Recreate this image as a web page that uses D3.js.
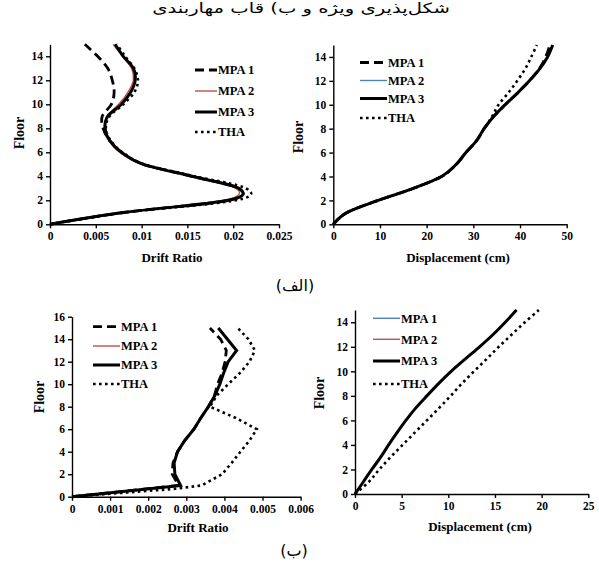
<!DOCTYPE html>
<meta charset="utf-8">
<head>
  <script src="https://d3js.org/d3.v7.min.js"></script>
  <style>
    body { margin: 0; background: #fff; }
    svg { display: block; }
    .tick text { font: bold 11.5px "Liberation Serif", "Times New Roman", serif; fill: #000; }
    .domain, .tick line { stroke: #000; stroke-width: 1.4px; }
    .leg text { font: bold 12.5px "Liberation Serif", "Times New Roman", serif; fill: #000; }
    .ttl { font: bold 13px "Liberation Serif", "Times New Roman", serif; fill: #000; }
    .ttl.fl { font-size: 14px; }
    .fa { font-family: "DejaVu Sans", sans-serif; fill: #000; }
  </style>
</head>
<body>
<script>

// floors (storey levels)
var floors = [0, 1, 2, 3, 4, 5, 6, 7, 8, 9, 10, 11, 12, 13, 14, 15];
var floorsThaB = [0, 0.7, 1, 2, 3, 4, 5, 6, 7, 8, 9, 10, 11, 12, 13, 14, 15];

// (الف) drift ratio
var driftA_MPA1 = [0, 0.0082, 0.0195, 0.0206, 0.0155, 0.0102, 0.0078, 0.0065, 0.0058, 0.0057, 0.0067, 0.0070, 0.0068, 0.0063, 0.0052, 0.0038];
var driftA_MPA2 = [0, 0.0081, 0.0190, 0.0203, 0.0153, 0.0100, 0.0076, 0.0065, 0.0061, 0.0062, 0.0075, 0.0085, 0.0091, 0.0089, 0.0079, 0.0069];
var driftA_MPA3 = [0, 0.0082, 0.0195, 0.0206, 0.0155, 0.0102, 0.0078, 0.0065, 0.0060, 0.0063, 0.0078, 0.0088, 0.0093, 0.0091, 0.0080, 0.0071];
var driftA_THA  = [0, 0.0083, 0.0203, 0.0214, 0.0158, 0.0103, 0.0079, 0.0066, 0.0061, 0.0065, 0.0080, 0.0092, 0.0096, 0.0092, 0.0082, 0.0073];

// (الف) displacement, cm
var dispA_MPA1 = [0, 3.0, 9.6, 17.1, 23.2, 26.3, 28.4, 30.7, 32.3, 34.3, 36.8, 39.5, 42.0, 44.1, 45.5, 46.4];
var dispA_MPA2 = [0, 3.0, 9.6, 17.1, 23.2, 26.3, 28.4, 30.7, 32.3, 34.3, 36.8, 39.5, 42.0, 44.2, 45.9, 47.0];
var dispA_MPA3 = [0, 3.0, 9.6, 17.1, 23.2, 26.3, 28.4, 30.7, 32.3, 34.3, 36.8, 39.5, 42.0, 44.2, 45.9, 47.0];
var dispA_THA  = [0, 3.0, 9.6, 17.1, 23.2, 26.3, 28.4, 30.7, 32.3, 34.0, 35.4, 37.5, 39.4, 41.1, 42.4, 43.6];

// (ب) drift ratio
var driftB_MPA1 = [0, 0.00280, 0.00263, 0.00265, 0.00277, 0.00296, 0.00320, 0.00338, 0.00358, 0.00374, 0.00382, 0.00394, 0.00402, 0.00405, 0.00390, 0.00362];
var driftB_MPA2 = [0, 0.00285, 0.00270, 0.00268, 0.00277, 0.00296, 0.00320, 0.00338, 0.00358, 0.00375, 0.00388, 0.00398, 0.00410, 0.00432, 0.00408, 0.00384];
var driftB_MPA3 = [0, 0.00285, 0.00270, 0.00268, 0.00277, 0.00296, 0.00320, 0.00338, 0.00358, 0.00375, 0.00388, 0.00398, 0.00410, 0.00432, 0.00408, 0.00384];
var driftB_THA  = [0, 0.0027, 0.0034, 0.00394, 0.00419, 0.00442, 0.00466, 0.00485, 0.00430, 0.00362, 0.00380, 0.00410, 0.00441, 0.00466, 0.00480, 0.00463, 0.00435];

// (ب) displacement, cm
var dispB_MPA1 = [0, 0.9, 1.8, 2.75, 3.6, 4.5, 5.45, 6.5, 7.7, 8.95, 10.3, 11.8, 13.35, 14.8, 16.1, 17.3];
var dispB_MPA2 = [0, 0.9, 1.8, 2.75, 3.6, 4.5, 5.45, 6.5, 7.7, 8.95, 10.3, 11.8, 13.35, 14.8, 16.1, 17.3];
var dispB_MPA3 = [0, 0.9, 1.8, 2.75, 3.6, 4.5, 5.45, 6.5, 7.7, 8.95, 10.3, 11.8, 13.35, 14.8, 16.1, 17.3];
var dispB_THA  = [0, 1.5, 2.6, 3.8, 5.1, 6.4, 7.7, 9.0, 10.25, 11.45, 12.75, 14.1, 15.4, 16.8, 18.2, 19.7];

var seriesNames = ["MPA 1", "MPA 2", "MPA 3", "THA"];
var driftTicks = [0, 0.005, 0.01, 0.015, 0.02, 0.025];
var driftTicksB = [0, 0.001, 0.002, 0.003, 0.004, 0.005, 0.006];

var titleText = "شکل\u200Cپذیری ویژه و ب) قاب مهاربندی";

// line looks
var dashed = {stroke: "#000", width: 2.8, dash: "9,5"},
    red    = {stroke: "#c0504d", width: 1.4, dash: null},
    blue   = {stroke: "#4f81bd", width: 1.4, dash: null},
    solid  = {stroke: "#000", width: 3, dash: null},
    dotted = {stroke: "#000", width: 2.6, dash: "2.6,3.4"};

var svg = d3.select("body").append("svg")
    .attr("width", 599)
    .attr("height", 565);

function fmt(d) { return d === 0 ? "0" : String(+d.toFixed(4)); }

function panel(c) {
  var x = d3.scaleLinear().domain(c.xDomain).range([c.left, c.right]);
  var y = d3.scaleLinear().domain(c.yDomain).range([c.bottom, c.top]);
  var g = svg.append("g");

  g.append("g")
      .attr("transform", "translate(0," + c.bottom + ")")
      .call(d3.axisBottom(x).tickValues(c.xTicks).tickFormat(fmt).tickSize(4).tickSizeOuter(0).tickPadding(4));
  g.append("g")
      .attr("transform", "translate(" + c.left + ",0)")
      .call(d3.axisLeft(y).tickValues(c.yTicks).tickSize(4).tickSizeOuter(0).tickPadding(3));

  var line = d3.line()
      .x(function(d) { return x(d[1]); })
      .y(function(d) { return y(d[0]); })
      .curve(c.curve);

  c.series.forEach(function(s) {
    var fl = s.floors || floors;
    g.append("path")
        .datum(fl.map(function(f, i) { return [f, s.values[i]]; }))
        .attr("fill", "none")
        .attr("stroke", s.look.stroke)
        .attr("stroke-width", s.look.width)
        .attr("stroke-dasharray", s.look.dash)
        .attr("d", line);
  });

  // legend
  var leg = g.append("g").attr("class", "leg");
  c.series.forEach(function(s, i) {
    var yy = c.leg.y[i];
    leg.append("line")
        .attr("x1", c.leg.x0).attr("x2", c.leg.x1)
        .attr("y1", yy).attr("y2", yy)
        .attr("stroke", s.look.stroke)
        .attr("stroke-width", s.look.width)
        .attr("stroke-dasharray", s.look.dash);
    leg.append("text")
        .attr("x", c.leg.x1 + 1).attr("y", yy).attr("dy", "0.35em")
        .text(seriesNames[i]);
  });

  g.append("text").attr("class", "ttl")
      .attr("x", c.xt[0]).attr("y", c.xt[1])
      .attr("text-anchor", "middle")
      .text(c.xTitle);
  g.append("text").attr("class", "ttl fl")
      .attr("transform", "translate(" + c.yt[0] + "," + c.yt[1] + ") rotate(-90)")
      .attr("text-anchor", "middle")
      .text("Floor");
}

panel({
  left: 50, right: 279, top: 44.3, bottom: 224.3,
  xDomain: [0, 0.025], yDomain: [0, 15],
  xTicks: driftTicks, yTicks: [0, 2, 4, 6, 8, 10, 12, 14],
  curve: d3.curveCardinal.tension(0),
  series: [
    {values: driftA_MPA1, look: dashed},
    {values: driftA_MPA2, look: red},
    {values: driftA_MPA3, look: solid},
    {values: driftA_THA, look: dotted}
  ],
  leg: {x0: 195, x1: 217, y: [70, 91, 112, 132]},
  xTitle: "Drift Ratio", xt: [172, 262], yt: [24, 133]
});

panel({
  left: 333.3, right: 566.7, top: 45, bottom: 224.3,
  xDomain: [0, 50], yDomain: [0, 15],
  xTicks: [0, 10, 20, 30, 40, 50], yTicks: [0, 2, 4, 6, 8, 10, 12, 14],
  curve: d3.curveCardinal.tension(0),
  series: [
    {values: dispA_MPA1, look: dashed},
    {values: dispA_MPA2, look: blue},
    {values: dispA_MPA3, look: solid},
    {values: dispA_THA, look: dotted}
  ],
  leg: {x0: 360, x1: 387, y: [62.5, 80.5, 98.5, 118]},
  xTitle: "Displacement (cm)", xt: [458, 262], yt: [303, 137]
});

panel({
  left: 72, right: 300.6, top: 316.7, bottom: 496.7,
  xDomain: [0, 0.006], yDomain: [0, 16],
  xTicks: driftTicksB, yTicks: [0, 2, 4, 6, 8, 10, 12, 14, 16],
  curve: d3.curveLinear,
  series: [
    {values: driftB_MPA1, look: dashed},
    {values: driftB_MPA2, look: red},
    {values: driftB_MPA3, look: solid},
    {values: driftB_THA, look: dotted, floors: floorsThaB}
  ],
  leg: {x0: 93, x1: 120, y: [326.7, 346, 365, 384]},
  xTitle: "Drift Ratio", xt: [198, 532], yt: [44, 397]
});

panel({
  left: 355, right: 588.3, top: 310, bottom: 494,
  xDomain: [0, 25], yDomain: [0, 15],
  xTicks: [0, 5, 10, 15, 20, 25], yTicks: [0, 2, 4, 6, 8, 10, 12, 14],
  curve: d3.curveCardinal.tension(0),
  series: [
    {values: dispB_MPA1, look: blue},
    {values: dispB_MPA2, look: red},
    {values: dispB_MPA3, look: solid},
    {values: dispB_THA, look: dotted}
  ],
  leg: {x0: 373, x1: 400, y: [318.3, 339.3, 361, 384]},
  xTitle: "Displacement (cm)", xt: [480, 531], yt: [324, 393]
});

// Persian captions
svg.append("g")
    .attr("transform", "translate(301,12.5) scale(1.4,1)")
  .append("text")
    .attr("class", "fa")
    .attr("direction", "rtl")
    .attr("text-anchor", "middle")
    .style("font-size", "14px")
    .text(titleText);
svg.append("text").attr("class", "fa")
    .attr("x", 295).attr("y", 291)
    .attr("text-anchor", "middle")
    .style("font-size", "16px")
    .text("(الف)");
svg.append("text").attr("class", "fa")
    .attr("x", 294).attr("y", 556)
    .attr("text-anchor", "middle")
    .style("font-size", "16px")
    .text("(ب)");

</script>
</body>
